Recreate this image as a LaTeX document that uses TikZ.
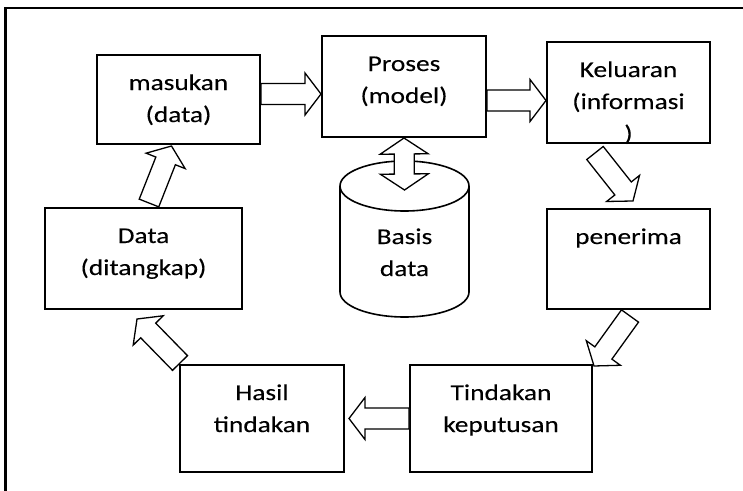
\documentclass[tikz,border=0pt]{standalone}
\usepackage{fontspec}
\setmainfont{Carlito}[FakeStretch=1.21, FakeBold=0.15]
\usetikzlibrary{calc}

\tikzset{
  box/.style={draw, line width=2pt, inner sep=0pt},
  btext/.style={anchor=base, inner sep=0pt, font=\fontsize{22.6}{32}\selectfont},
  barrow/.style={draw, line width=1.3pt, fill=white, line join=miter},
  cyl/.style={draw, line width=1.6pt},
}

\newcommand\lines[1]{\begin{tabular}[t]{@{}c@{}}#1\end{tabular}}

\newcommand\getvec[2]{%
  \path let \p1=($(#2)-(#1)$) in \pgfextra{%
    \pgfmathsetmacro\tmpang{atan2(\y1,\x1)}\xdef\baang{\tmpang}%
    \pgfmathsetmacro\tmplen{veclen(\x1,\y1)}\xdef\balen{\tmplen}};%
}

\newcommand\blockarrow[2]{%
  \getvec{#1}{#2}%
  \draw[barrow, shift={(#1)}, rotate=\baang]
    (0pt,-10.5pt) -- ({\balen pt-16pt},-10.5pt) -- ({\balen pt-16pt},-21pt)
    -- (\balen pt,0pt) -- ({\balen pt-16pt},21pt) -- ({\balen pt-16pt},10.5pt)
    -- (0pt,10.5pt) -- cycle;%
}

\newcommand\dblarrow[2]{%
  \getvec{#1}{#2}%
  \draw[barrow, shift={(#1)}, rotate=\baang]
    (0pt,0pt) -- (16pt,-24pt) -- (16pt,-10pt) -- ({\balen pt-16pt},-10pt)
    -- ({\balen pt-16pt},-24pt) -- (\balen pt,0pt) -- ({\balen pt-16pt},24pt)
    -- ({\balen pt-16pt},10pt) -- (16pt,10pt) -- (16pt,24pt) -- cycle;%
}

\begin{document}
\begin{tikzpicture}[x=1pt, y=-1pt]
\useasboundingbox (0,0) rectangle (743,490);
\clip (0,0) rectangle (743,490);
\fill[white] (0,0) rectangle (743,490);

% outer frame (runs off the right and bottom edges)
\draw[line width=2.7pt] (5.3,8) rectangle (770,520);

% boxes
\node[box, minimum width=163pt, minimum height=89pt]  (masukan)  at (178.5,99.5) {};
\node[box, minimum width=164pt, minimum height=101pt] (proses)   at (404,86.5)   {};
\node[box, minimum width=163pt, minimum height=101pt] (keluaran) at (628.5,92.5) {};
\node[box, minimum width=197pt, minimum height=101pt] (data)     at (143.5,258.5) {};
\node[box, minimum width=163pt, minimum height=100pt] (penerima) at (628.5,259)  {};
\node[box, minimum width=164pt, minimum height=107pt] (hasil)    at (262,418.5)  {};
\node[box, minimum width=182pt, minimum height=107pt] (tindakan) at (501,418.5)  {};

% texts
\node[btext] (masukan-t)  at ([yshift=-36pt]masukan.north)  {\lines{masukan\\(data)}};
\node[btext] (proses-t)   at ([yshift=-36pt]proses.north)   {\lines{Proses\\(model)}};
\node[btext] (keluaran-t) at ([yshift=-36pt]keluaran.north) {\lines{Keluaran\\(informasi\\)}};
\node[btext] (data-t)     at ([yshift=-36pt]data.north)     {\lines{Data\\(ditangkap)}};
\node[btext] (penerima-t) at ([yshift=-36pt]penerima.north) {\lines{penerima}};
\node[btext] (hasil-t)    at ([yshift=-36pt]hasil.north)    {\lines{Hasil\\tindakan}};
\node[btext] (tindakan-t) at ([yshift=-36pt]tindakan.north) {\lines{Tindakan\\keputusan}};

% database cylinder
\coordinate (db) at (404.5,186);
\draw[cyl, fill=white] (340,186) -- (340,292)
  arc[start angle=180, end angle=360, x radius=64.5pt, y radius=25pt] -- (469,186);
\draw[cyl] (db) ellipse[x radius=64.5pt, y radius=25pt];
\node[btext] (db-t) at (404.5,244) {\lines{Basis\\data}};

% block arrows
\blockarrow{[yshift=5.5pt]masukan.east}{[yshift=-7.5pt]proses.west}
\blockarrow{[yshift=-14pt]proses.east}{[yshift=-8pt]keluaran.west}
\blockarrow{[xshift=-33.5pt,yshift=-9pt]keluaran.south}{[xshift=4.5pt,yshift=7pt]penerima.north}
\blockarrow{[xshift=1.5pt,yshift=-6pt]penerima.south}{[xshift=1pt,yshift=-2pt]tindakan.north east}
\blockarrow{tindakan.west}{[xshift=4pt]hasil.east}
\blockarrow{[xshift=1pt,yshift=1pt]hasil.north west}{[xshift=-6.5pt,yshift=-9pt]data.south}
\blockarrow{[xshift=5.5pt,yshift=4pt]data.north}{[xshift=-7pt,yshift=-1pt]masukan.south}
\dblarrow{proses.south}{[yshift=-4pt]db}
\end{tikzpicture}
\end{document}
